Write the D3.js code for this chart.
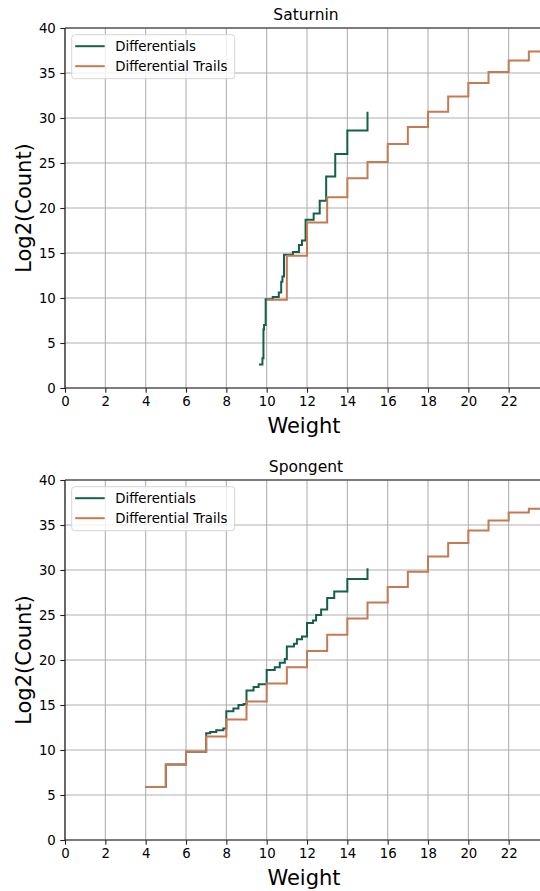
<!DOCTYPE html>
<html>
<head>
<meta charset="utf-8">
<script src="https://cdn.jsdelivr.net/npm/d3@7"></script>
<style>
body{margin:0;background:#fff;overflow:hidden;}
svg text{font-family:"DejaVu Sans",sans-serif;}
</style>
</head>
<body>
<div class="canvas"></div>
<script>
//step data: weight, log2(count)
var satDiffX  = [9.62,9.79,9.84,9.87,9.95,10.3,10.6,10.72,10.78,10.86,11.3,11.6,11.75,11.93,12.33,12.63,12.95,13.4,14,15];
var satDiffY  = [2.6,3.3,6.5,7.0,9.85,10.1,10.6,11.8,12.4,14.8,15.1,15.9,16.4,18.7,19.4,20.8,23.5,26.0,28.6,30.7];
var satTrailX = [10,11,12,13,14,15,16,17,18,19,20,21,22,23,24];
var satTrailY = [9.8,14.7,18.4,21.2,23.3,25.1,27.1,29.0,30.7,32.4,33.9,35.1,36.4,37.4,37.4];

var spoDiffX  = [4,5,6,7,7.2,7.5,7.85,8,8.35,8.6,8.85,9,9.35,9.6,10,10.4,10.65,10.9,11,11.35,11.5,11.75,12,12.3,12.45,12.7,13,13.35,14,15];
var spoDiffY  = [5.9,8.4,9.8,11.85,12.0,12.2,12.4,14.3,14.6,15.0,15.1,16.6,17.0,17.3,18.9,19.2,19.7,20.1,21.5,21.8,22.3,22.6,24.1,24.4,25.0,25.6,26.9,27.6,29.0,30.2];
var spoTrailX = [4,5,6,7,8,9,10,11,12,13,14,15,16,17,18,19,20,21,22,23,24];
var spoTrailY = [5.9,8.4,9.8,11.5,13.4,15.4,17.4,19.2,21.0,22.8,24.6,26.4,28.1,29.8,31.5,33.0,34.4,35.5,36.4,36.8,36.8];

var xTicks = [0,2,4,6,8,10,12,14,16,18,20,22];
var yTicks = [0,5,10,15,20,25,30,35,40];
var seriesNames = ['Differentials','Differential Trails'];
var colors = ['#15604a','#c47a52'];

var W = 540, H = 891;
var svg = d3.select('.canvas').append('svg')
	.attr('width',W).attr('height',H);

function drawPanel(top, title, diffX, diffY, trailX, trailY, id){
	var margin = {l:65, r:547, t:top, b:top+360};
	var x = d3.scaleLinear().domain([0,23.9]).range([margin.l,margin.r]);
	var y = d3.scaleLinear().domain([0,40]).range([margin.b,margin.t]);

	svg.append('clipPath').attr('id',id)
		.append('rect')
		.attr('x',margin.l).attr('y',margin.t-2)
		.attr('width',margin.r-margin.l).attr('height',margin.b-margin.t+4);

	var g = svg.append('g');

	//grid
	g.selectAll('.vg').data(xTicks).enter().append('line')
		.attr('x1',function(d){return x(d);}).attr('x2',function(d){return x(d);})
		.attr('y1',margin.t).attr('y2',margin.b)
		.style('stroke','#b0b0b0').style('stroke-width',1.1);
	g.selectAll('.hg').data(yTicks).enter().append('line')
		.attr('x1',margin.l).attr('x2',margin.r)
		.attr('y1',function(d){return y(d);}).attr('y2',function(d){return y(d);})
		.style('stroke','#b0b0b0').style('stroke-width',1.1);

	var line = d3.line()
		.x(function(d){return x(d[0]);})
		.y(function(d){return y(d[1]);})
		.curve(d3.curveStepAfter);

	var lines = [d3.zip(diffX,diffY), d3.zip(trailX,trailY)];
	lines.forEach(function(pts,i){
		g.append('path')
			.attr('d',line(pts))
			.attr('clip-path','url(#'+id+')')
			.style('fill','none')
			.style('stroke',colors[i])
			.style('stroke-width',2);
	});

	//axes
	var xAxis = d3.axisBottom(x).tickValues(xTicks).tickSize(4.7).tickPadding(4.2);
	var yAxis = d3.axisLeft(y).tickValues(yTicks).tickSize(4.7).tickPadding(4.5);
	var gx = svg.append('g').attr('transform','translate(0,'+margin.b+')').call(xAxis);
	var gy = svg.append('g').attr('transform','translate('+margin.l+',0)').call(yAxis);
	[gx,gy].forEach(function(a){
		a.select('.domain').remove();
		a.selectAll('text').style('font-size','13.3px').style('fill','#000');
		a.selectAll('line').style('stroke','#222').style('stroke-width',1.1);
	});
	svg.append('line').attr('x1',margin.l).attr('x2',margin.r)
		.attr('y1',margin.b).attr('y2',margin.b).style('stroke','#222').style('stroke-width',1.2);
	svg.append('line').attr('x1',margin.l).attr('x2',margin.l)
		.attr('y1',margin.t).attr('y2',margin.b).style('stroke','#222').style('stroke-width',1.2);
	svg.append('line').attr('x1',margin.l).attr('x2',margin.r)
		.attr('y1',margin.t).attr('y2',margin.t).style('stroke','#222').style('stroke-width',1.2);

	svg.append('text').attr('x',(margin.l+margin.r)/2).attr('y',margin.t-8)
		.attr('text-anchor','middle').style('font-size','15.5px').text(title);
	svg.append('text').attr('x',(margin.l+margin.r)/2 - 2).attr('y',margin.b+45)
		.attr('text-anchor','middle').style('font-size','21px').text('Weight');
	svg.append('text')
		.attr('transform','translate(31,'+((margin.t+margin.b)/2)+') rotate(-90)')
		.attr('text-anchor','middle').style('font-size','21px').text('Log2(Count)');

	//legend
	var lg = svg.append('g').attr('transform','translate('+(margin.l+6.7)+','+(margin.t+6.7)+')');
	lg.append('rect').attr('x',0).attr('y',0).attr('width',163).attr('height',44).attr('rx',3)
		.style('fill','#fff').style('fill-opacity',0.8).style('stroke','#d6d6d6');
	seriesNames.forEach(function(n,i){
		lg.append('line').attr('x1',3.5).attr('x2',33)
			.attr('y1',11.5+i*20).attr('y2',11.5+i*20)
			.style('stroke',colors[i]).style('stroke-width',2);
		lg.append('text').attr('x',43.5).attr('y',16.3+i*20)
			.style('font-size','13.3px').text(n);
	});
}

drawPanel(28,'Saturnin',satDiffX,satDiffY,satTrailX,satTrailY,'c1');
drawPanel(480,'Spongent',spoDiffX,spoDiffY,spoTrailX,spoTrailY,'c2');
</script>
</body>
</html>
